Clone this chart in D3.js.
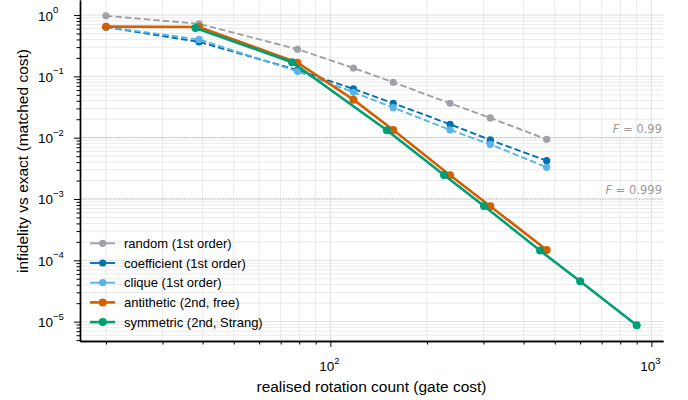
<!DOCTYPE html>
<html>
<head>
<meta charset="utf-8">
<script src="https://cdn.jsdelivr.net/npm/d3@7"></script>
<style>
  body { margin: 0; background: #fff; }
  text { font-family: "Liberation Sans", Arial, sans-serif; fill: #000; }
</style>
</head>
<body>
<svg id="chart" width="688" height="400"></svg>
<script>
// gate cost per step count
const costFirstOrder = [20, 39, 79, 118, 157, 236, 315, 472];
const costSymmetric = [38, 76, 150, 226, 301, 450, 600, 900];

// infidelity vs exact
const infRandom = [0.97, 0.72, 0.277, 0.137, 0.080, 0.0364, 0.0210, 0.0094];
const infCoefficient = [0.64, 0.365, 0.127, 0.0623, 0.0364, 0.01655, 0.00918, 0.00421];
const infClique = [0.64, 0.40, 0.121, 0.055, 0.0309, 0.0134, 0.0078, 0.00329];
const infAntithetic = [0.647, 0.64, 0.167, 0.0417, 0.01336, 0.00244, 0.00076, 0.000147];
const infSymmetric = [0.616, 0.170, 0.01325, 0.00246, 0.000769, 0.000144, 4.54e-5, 8.7e-6];

const seriesNames = ['random (1st order)', 'coefficient (1st order)', 'clique (1st order)',
                     'antithetic (2nd, free)', 'symmetric (2nd, Strang)'];
const fidelityLines = [0.01, 0.001];
const fidelityLabels = ['0.99', '0.999'];
const xMajorTicks = [100, 1000];
const yMajorTicks = [1e-5, 1e-4, 1e-3, 1e-2, 1e-1, 1];

const colors = ['#a0a0a6', '#0072b2', '#56b4e9', '#d55e00', '#009e73'];
const dashed = [true, true, true, false, false];

const series = seriesNames.map((name, i) => ({
  name,
  xs: i == 4 ? costSymmetric : costFirstOrder,
  ys: [infRandom, infCoefficient, infClique, infAntithetic, infSymmetric][i],
  color: colors[i],
  dashed: dashed[i],
}));

const plotLeft = 80, plotRight = 663, plotTop = 0, plotBottom = 341;
const x = d3.scaleLog().domain([16.6, 1087]).range([plotLeft, plotRight]);
const y = d3.scaleLog().domain([4.83e-6, 1.76]).range([plotBottom, plotTop]);

const minorOf = (lo, hi) => {
  const out = [];
  for (let k = Math.floor(Math.log10(lo)); k <= Math.ceil(Math.log10(hi)); k++)
    for (let m = 2; m <= 9; m++) {
      const v = m * Math.pow(10, k);
      if (v >= lo && v <= hi) out.push(v);
    }
  return out;
};
const xMinor = minorOf(...x.domain());
const yMinor = minorOf(...y.domain());

const svg = d3.select('#chart');

// grid
const grid = svg.append('g');
grid.selectAll('.gx').data(xMinor.concat(xMajorTicks)).join('line')
  .attr('x1', d => x(d)).attr('x2', d => x(d))
  .attr('y1', plotTop).attr('y2', plotBottom)
  .attr('stroke', d => xMajorTicks.includes(d) ? '#dcdcdc' : '#e8e8e8')
  .attr('stroke-width', 0.9);
grid.selectAll('.gy').data(yMinor.concat(yMajorTicks)).join('line')
  .attr('x1', plotLeft).attr('x2', plotRight)
  .attr('y1', d => y(d)).attr('y2', d => y(d))
  .attr('stroke', d => yMajorTicks.includes(d) ? '#dcdcdc' : '#e8e8e8')
  .attr('stroke-width', 0.9);

// fidelity reference lines
svg.append('g').selectAll('line').data(fidelityLines).join('line')
  .attr('x1', plotLeft).attr('x2', plotRight)
  .attr('y1', d => y(d)).attr('y2', d => y(d))
  .attr('stroke', '#b0b0b0').attr('stroke-width', 1)
  .attr('stroke-dasharray', '1,1.6');
const fl = svg.append('g').selectAll('text').data(fidelityLines).join('text')
  .attr('x', plotRight - 1).attr('y', d => y(d) - 5)
  .attr('text-anchor', 'end')
  .style('font-family', '"DejaVu Sans", sans-serif')
  .style('font-size', '11.5px')
  .style('fill', '#9a9a9a');
fl.append('tspan').style('font-style', 'italic').text('F');
fl.append('tspan').text((d, i) => ' = ' + fidelityLabels[i]);

// series
const line = d3.line().x(d => x(d[0])).y(d => y(d[1]));
const sg = svg.append('g').selectAll('g').data(series).join('g');
sg.append('path')
  .attr('d', s => line(d3.zip(s.xs, s.ys)))
  .attr('fill', 'none')
  .attr('stroke', s => s.color)
  .attr('stroke-width', s => s.dashed ? 1.9 : 2.6)
  .attr('stroke-dasharray', s => s.dashed ? '6.5,3' : null);
sg.selectAll('circle').data(s => d3.zip(s.xs, s.ys).map(p => ({p, s}))).join('circle')
  .attr('cx', d => x(d.p[0])).attr('cy', d => y(d.p[1]))
  .attr('r', d => d.s.dashed ? 3.6 : 4)
  .attr('fill', d => d.s.color);

// axes
const xAxis = svg.append('g').attr('transform', `translate(0,${plotBottom})`);
xAxis.call(d3.axisBottom(x).tickValues(xMinor).tickSize(3.5).tickSizeOuter(0).tickFormat(''));
xAxis.append('g').call(d3.axisBottom(x).tickValues(xMajorTicks).tickSize(6).tickSizeOuter(0).tickFormat(''));
const yAxis = svg.append('g').attr('transform', `translate(${plotLeft},0)`);
yAxis.call(d3.axisLeft(y).tickValues(yMinor).tickSize(3.5).tickSizeOuter(0).tickFormat(''));
yAxis.append('g').call(d3.axisLeft(y).tickValues(yMajorTicks).tickSize(6).tickSizeOuter(0).tickFormat(''));
svg.selectAll('.domain').attr('stroke', '#000').attr('stroke-width', 1.4);
svg.selectAll('.tick line').attr('stroke', '#000').attr('stroke-width', 1);

const expText = v => {
  const e = Math.round(Math.log10(v));
  return e < 0 ? '\u2212' + (-e) : String(e);
};
const xl = svg.append('g').selectAll('text').data(xMajorTicks).join('text')
  .attr('x', d => x(d) - 1).attr('y', 371)
  .attr('text-anchor', 'middle')
  .style('font-size', '13.5px');
xl.append('tspan').text('10');
xl.append('tspan').attr('dy', -7.5).style('font-size', '9.5px').text(expText);

const yl = svg.append('g').selectAll('text').data(yMajorTicks).join('text')
  .attr('x', 38).attr('y', d => y(d) + 5.5)
  .style('font-size', '13.5px');
yl.append('tspan').text('10');
yl.append('tspan').attr('dy', -7.5).style('font-size', '9.5px').text(expText);

svg.append('text')
  .attr('x', (plotLeft + plotRight) / 2).attr('y', 392)
  .attr('text-anchor', 'middle')
  .style('font-size', '15.5px')
  .text('realised rotation count (gate cost)');
svg.append('text')
  .attr('transform', `translate(28,161) rotate(-90)`)
  .attr('text-anchor', 'middle')
  .style('font-size', '15.5px')
  .text('infidelity vs exact (matched cost)');

// legend
const legend = svg.append('g').selectAll('g').data(series).join('g')
  .attr('transform', (d, i) => `translate(90,${243.3 + i * 19.7})`);
legend.append('line')
  .attr('x1', 0).attr('x2', 25)
  .attr('stroke', s => s.color)
  .attr('stroke-width', s => s.dashed ? 1.9 : 2.6);
legend.append('circle').attr('cx', 12.7).attr('r', s => s.dashed ? 3.6 : 4).attr('fill', s => s.color);
legend.append('text')
  .attr('x', 34).attr('y', 4.5)
  .style('font-size', '13px')
  .text(s => s.name);
</script>
</body>
</html>
